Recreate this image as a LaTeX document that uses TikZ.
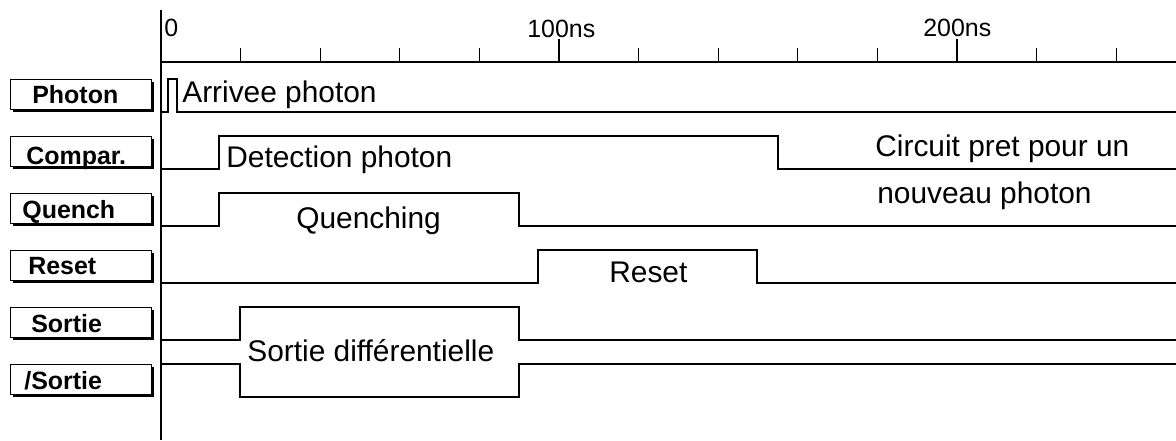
\documentclass[tikz,border=0pt]{standalone}
\usepackage{fontspec}
\setmainfont{Liberation Sans}
\usetikzlibrary{shadows}

\tikzset{
  signal/.style={line width=0.7pt},
  sigtext/.style={inner sep=0pt, anchor=base west, font=\fontsize{17}{20}\selectfont},
  axtext/.style={inner sep=0pt, anchor=base west, font=\fontsize{14.2}{17}\selectfont},
  namebox/.style={draw, line width=0.5pt, fill=white, inner sep=0pt,
    minimum width=2.82cm, minimum height=0.6cm,
    drop shadow={shadow xshift=0.06cm, shadow yshift=-0.06cm, fill=black, opacity=1}},
  nametext/.style={inner sep=0pt, anchor=base west, font=\fontsize{14.2}{17}\selectfont\bfseries}
}

\begin{document}
\begin{tikzpicture}[x=0.02cm, y=-0.02cm]
\useasboundingbox (0,0) rectangle (1176,440);
%\draw [help lines] (0,0) grid (1176,440);
% time axis
\draw [line width=0.6pt] (161,10) -- (161,440);
\draw [line width=0.6pt] (161,62) -- (1176,62);
\foreach \k in {1,...,12}
  \draw [line width=0.6pt] (161+79.6*\k,48) -- (161+79.6*\k,62);
\draw [line width=0.6pt] (559,39) -- (559,48);
\draw [line width=0.6pt] (957,39) -- (957,48);
\node [axtext] (n0) at (164,36) {0};
\node [axtext] (n100) at (527,37) {100ns};
\node [axtext] (n200) at (923,36) {200ns};
% signal names
\node [namebox] (bphoton) at (80.5,94) {};
\node [namebox] (bcompar) at (80.5,151) {};
\node [namebox] (bquench) at (80.5,208) {};
\node [namebox] (breset) at (80.5,265) {};
\node [namebox] (bsortie) at (80.5,322) {};
\node [namebox] (bnsortie) at (80.5,379) {};
\node [nametext] (lphoton) at (32,103) {Photon};
\node [nametext] (lcompar) at (26,164) {Compar.};
\node [nametext] (lquench) at (22,218) {Quench};
\node [nametext] (lreset) at (28,274) {Reset};
\node [nametext] (lsortie) at (31,332) {Sortie};
\node [nametext] (lnsortie) at (24,389) {/Sortie};
% chronogrammes
\draw [signal] (161,112) -- (168,112) -- (168,79) -- (177,79) -- (177,112) -- (1176,112);
\draw [signal] (161,169) -- (219,169) -- (219,136) -- (778,136) -- (778,169) -- (1176,169);
\draw [signal] (161,226) -- (219,226) -- (219,193) -- (519,193) -- (519,226) -- (1176,226);
\draw [signal] (161,283) -- (538,283) -- (538,250) -- (757,250) -- (757,283) -- (1176,283);
\draw [signal] (161,340) -- (240,340) -- (240,307) -- (519,307) -- (519,340) -- (1176,340);
\draw [signal] (161,364) -- (240,364) -- (240,397) -- (519,397) -- (519,364) -- (1176,364);
% commentaires
\node [sigtext] (tarrivee) at (182,102) {Arrivee photon};
\node [sigtext] (tdetect) at (226,167) {Detection photon};
\node [sigtext] (tquench) at (296,228) {Quenching};
\node [sigtext] (treset) at (609,282) {Reset};
\node [sigtext] (tsortie) at (247,361) {Sortie différentielle};
\node [sigtext] (tcircuit) at (875,156) {Circuit pret pour un};
\node [sigtext] (tnouveau) at (877,203) {nouveau photon};
\end{tikzpicture}
\end{document}
